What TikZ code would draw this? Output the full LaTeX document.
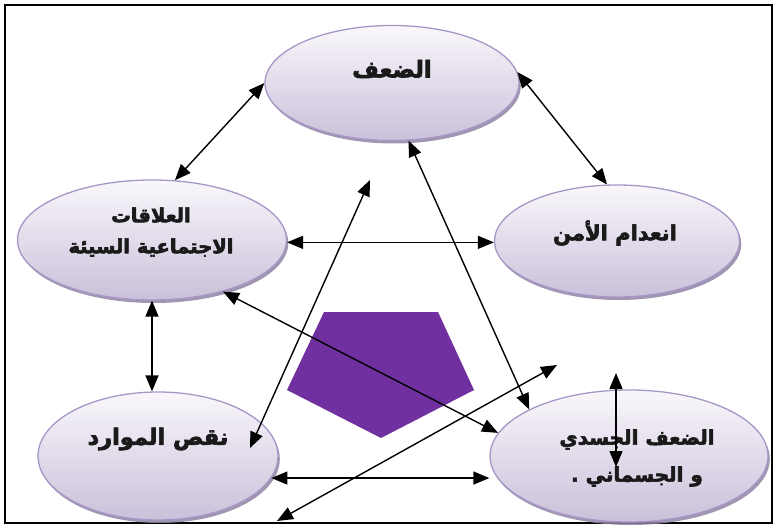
\documentclass[tikz,border=0pt]{standalone}
\usepackage{fontspec}
\newfontfamily\arabicfont[Script=Arabic,BoldFont={DejaVu Sans Bold},BoldFeatures={FakeBold=3}]{DejaVu Sans}
\TeXXeTstate=1
\usetikzlibrary{shapes.geometric,arrows.meta,shadows}
\definecolor{elltop}{HTML}{F9F7FB}
\definecolor{ellbot}{HTML}{CBC0DA}
\definecolor{ellbrd}{HTML}{A797C6}
\definecolor{ellshd}{HTML}{8F84A3}
\definecolor{penta}{HTML}{7030A0}
\definecolor{txt}{HTML}{1A1A1A}
\newcommand{\arsz}[2]{\arabicfont\bfseries\fontsize{#1}{#2}\selectfont}
\tikzset{
  bubble/.style={ellipse, draw=ellbrd, line width=1.3pt, inner sep=0pt,
    top color=elltop, bottom color=ellbot,
    drop shadow={shadow xshift=1.8pt, shadow yshift=-3pt, fill=ellshd, opacity=0.85}},
  lbl/.style={align=center, inner sep=0pt, text=txt},
  link/.style={{Triangle[length=16pt,width=13pt]}-{Triangle[length=16pt,width=13pt]}, line width=1.4pt, black},
}
\begin{document}
\begin{tikzpicture}[x=1pt,y=-1pt]
\useasboundingbox (0,0) rectangle (777,532);
\draw[line width=1.8pt] (5,5) rectangle (772,523);
% ellipses
\node[bubble, minimum width=254pt, minimum height=115pt] (T) at (392,83) {};
\node[bubble, minimum width=269pt, minimum height=120pt] (L) at (152,240) {};
\node[bubble, minimum width=245pt, minimum height=112pt] (R) at (617,241) {};
\node[bubble, minimum width=240pt, minimum height=128pt] (BL) at (158,456) {};
\node[bubble, minimum width=278pt, minimum height=132pt] (BR) at (629,456) {};
% texts
\node[lbl, font=\arsz{23}{28}] (tT) at (392,69) {\beginR الضعف\endR};
\node[lbl, font=\arsz{19.5}{31}] (tL) at (151,232) {\beginR العلاقات\endR\\\beginR الاجتماعية السيئة\endR};
\node[lbl, font=\arsz{21}{28}] (tR) at (615,233) {\beginR انعدام الأمن\endR};
\node[lbl, font=\arsz{22.5}{28}] (tBL) at (158,439) {\beginR نقص الموارد\endR};
\node[lbl, font=\arsz{20}{37}] (tBR) at (637,458) {\beginR الضعف الجسدي\endR\\\beginR و الجسماني .\endR};
% pentagon
\fill[penta] (324,312) coordinate (p1) -- (438,312) coordinate (p2) -- (474,390) coordinate (p3)
  -- (381,438) coordinate (p4) -- (287,390) coordinate (p5) -- cycle;
% free ends
\coordinate (a1) at (250,448);
\coordinate (a2) at (370,180);
\coordinate (b1) at (277,521);
\coordinate (b2) at (557,365);
\coordinate (c1) at (616,373);
\coordinate (c2) at (616,467);
% connectors
\draw[link] (T.180) -- (L.69);
\draw[link] (T.5) -- (R.100);
\draw[link] (L.-1) -- (L.-1 -| R.west);
\draw[link] (L.south) -- (L.south |- BL.north);
\draw[link] (BL.-11) -- (BL.-11 -| BR.west);
\draw[link] (L.-36) -- (BR.170);
\draw[link] (T.-74) -- (BR.155);
\draw[link] (a1) -- (a2);
\draw[link] (b1) -- (b2);
\draw[link] (c1) -- (c2);
\end{tikzpicture}
\end{document}
